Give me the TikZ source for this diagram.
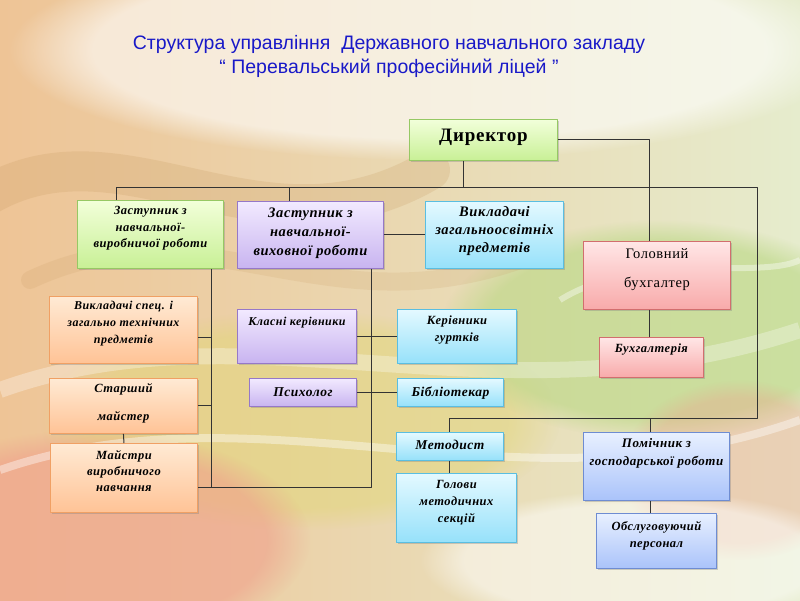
\documentclass[tikz,border=0pt]{standalone}
\usepackage{fontspec}
\setmainfont{Liberation Serif}[LetterSpace=4]
\newfontfamily\titlefont{Liberation Sans}
\usetikzlibrary{shadows,fadings}

\definecolor{titleblue}{RGB}{25,25,200}
\definecolor{bgpeach}{RGB}{238,196,150}
\definecolor{bgmint}{RGB}{230,236,205}
\definecolor{bgbrown}{RGB}{195,150,90}
\definecolor{bgrose}{RGB}{240,160,140}
\definecolor{bggreen}{RGB}{185,215,130}
\definecolor{bgyellow}{RGB}{225,215,120}
\definecolor{greenT}{RGB}{242,255,218}
\definecolor{greenB}{RGB}{200,240,150}
\definecolor{greenD}{RGB}{150,200,100}
\definecolor{purpleT}{RGB}{242,234,255}
\definecolor{purpleB}{RGB}{200,180,240}
\definecolor{purpleD}{RGB}{150,120,200}
\definecolor{cyanT}{RGB}{228,249,255}
\definecolor{cyanB}{RGB}{150,225,250}
\definecolor{cyanD}{RGB}{90,190,225}
\definecolor{orangeT}{RGB}{255,234,212}
\definecolor{orangeB}{RGB}{255,195,150}
\definecolor{orangeD}{RGB}{240,160,100}
\definecolor{pinkT}{RGB}{255,230,230}
\definecolor{pinkB}{RGB}{248,170,170}
\definecolor{pinkD}{RGB}{210,110,110}
\definecolor{blueT}{RGB}{232,240,255}
\definecolor{blueB}{RGB}{170,195,250}
\definecolor{blueD}{RGB}{110,140,210}

% box text: height, width, top pad, text
\newcommand{\boxtxt}[4]{\parbox[c][#1pt][t]{#2pt}{\centering\vspace*{#3pt}#4\par}}

\tikzset{
  orgbox/.style={draw, line width=0.9pt, inner sep=0pt, anchor=north west,
    drop shadow={shadow xshift=1.5pt, shadow yshift=-1.5pt, opacity=0.35},
    font=\bfseries\itshape\fontsize{12.5}{16.5}\selectfont},
  greenbox/.style={orgbox, draw=greenD, top color=greenT, bottom color=greenB},
  purplebox/.style={orgbox, draw=purpleD, top color=purpleT, bottom color=purpleB},
  cyanbox/.style={orgbox, draw=cyanD, top color=cyanT, bottom color=cyanB},
  orangebox/.style={orgbox, draw=orangeD, top color=orangeT, bottom color=orangeB},
  pinkbox/.style={orgbox, draw=pinkD, top color=pinkT, bottom color=pinkB},
  bluebox/.style={orgbox, draw=blueD, top color=blueT, bottom color=blueB},
  link/.style={draw=black!80, line width=1pt},
  glow/.style={path fading=circle with fuzzy edge 20 percent}
}

\begin{document}
\begin{tikzpicture}[x=1pt,y=-1pt,line join=round]
\useasboundingbox (0,0) rectangle (800,600);
% background
\shade[left color=bgpeach, right color=bgmint] (0,0) rectangle (800,600);
\fill[white, opacity=0.6, glow] (430,50) ellipse (420 and 110);
\fill[bgyellow, opacity=0.5, glow] (300,420) ellipse (260 and 110);
\fill[bggreen, opacity=0.6, glow] (660,330) ellipse (220 and 110);
\fill[bgrose, opacity=0.6, glow] (90,540) ellipse (220 and 110);
\fill[bgrose, opacity=0.35, glow] (740,470) ellipse (120 and 90);
\fill[white, opacity=0.5, glow] (640,560) ellipse (220 and 70);
\draw[line width=40pt, bgbrown, opacity=0.2, line cap=round] (-20,200) .. controls (120,110) and (260,270) .. (430,170);
\draw[line width=18pt, bgbrown, opacity=0.15, line cap=round] (30,280) .. controls (200,200) and (320,330) .. (520,260);
\draw[line width=16pt, white, opacity=0.3] (0,390) .. controls (250,300) and (500,430) .. (800,330);
\draw[line width=8pt, white, opacity=0.4] (0,470) .. controls (260,380) and (520,520) .. (800,420);
\draw[line width=6pt, white, opacity=0.4] (560,300) .. controls (640,250) and (760,280) .. (800,260);

% title
\node[font=\titlefont\fontsize{19.5}{24}\selectfont, text=titleblue, align=center] (title) at (389,56)
  {Структура управління \ Державного навчального закладу\\“ Перевальський професійний ліцей ”};

% boxes
\node[greenbox, font=\bfseries\fontsize{19}{22}\selectfont] (dir) at (409,119) {\boxtxt{41}{148}{10}{Директор}};
\node[greenbox] (zast1) at (77,200) {\boxtxt{68}{146}{6}{Заступник з\\навчальної-\\виробничої роботи}};
\node[purplebox, font=\bfseries\itshape\fontsize{14.5}{19}\selectfont] (zast2) at (237,201) {\boxtxt{67}{146}{6}{Заступник з\\навчальної-\\виховної роботи}};
\node[cyanbox, font=\bfseries\itshape\fontsize{14.5}{18}\selectfont] (vykl) at (425,201) {\boxtxt{67}{138}{5}{Викладачі\\загальноосвітніх\\предметів}};
\node[pinkbox, font=\fontsize{14.5}{29}\selectfont] (buh) at (583,241) {\boxtxt{68}{147}{7}{Головний\\бухгалтер}};
\node[orangebox, font=\bfseries\itshape\fontsize{12}{17}\selectfont] (vykspec) at (49,296) {\boxtxt{67}{148}{5}{Викладачі спец. і\\загально технічних\\предметів}};
\node[purplebox, font=\bfseries\itshape\fontsize{12}{17}\selectfont] (klasni) at (237,309) {\boxtxt{54}{119}{8}{Класні керівники}};
\node[cyanbox, font=\bfseries\itshape\fontsize{12.5}{17}\selectfont] (kerivn) at (397,309) {\boxtxt{54}{119}{6}{Керівники\\гуртків}};
\node[purplebox, font=\bfseries\itshape\fontsize{13.5}{17}\selectfont] (psych) at (249,378) {\boxtxt{28}{107}{9}{Психолог}};
\node[cyanbox, font=\bfseries\itshape\fontsize{13.5}{17}\selectfont] (bibl) at (397,378) {\boxtxt{28}{106}{8}{Бібліотекар}};
\node[orangebox, font=\bfseries\itshape\fontsize{12.5}{28}\selectfont] (starsh) at (49,378) {\boxtxt{55}{148}{5}{Старший\\майстер}};
\node[orangebox, font=\bfseries\itshape\fontsize{12.5}{16}\selectfont] (majstry) at (50,443) {\boxtxt{69}{147}{7}{Майстри\\виробничого\\навчання}};
\node[pinkbox] (buhg) at (599,337) {\boxtxt{40}{104}{6}{Бухгалтерія}};
\node[cyanbox, font=\bfseries\itshape\fontsize{13.5}{17}\selectfont] (metod) at (396,432) {\boxtxt{28}{107}{8}{Методист}};
\node[cyanbox, font=\bfseries\itshape\fontsize{12.5}{17}\selectfont] (holovy) at (396,473) {\boxtxt{69}{120}{7}{Голови\\методичних\\секцій}};
\node[bluebox, font=\bfseries\itshape\fontsize{13}{18}\selectfont] (pomich) at (583,432) {\boxtxt{68}{146}{6}{Помічник з\\господарської роботи}};
\node[bluebox, font=\bfseries\itshape\fontsize{12.5}{17}\selectfont] (obsl) at (596,513) {\boxtxt{55}{120}{8}{Обслуговуючий\\персонал}};

% junctions
\coordinate (dirdrop) at (463,187);
\coordinate (busL) at (116,187);
\coordinate (busM) at (289,187);
\coordinate (busR) at (757,187);
\coordinate (xbuh) at (649,143);
\coordinate (v1) at (211,487);
\coordinate (v2) at (371,487);
\coordinate (j1) at (211,337);
\coordinate (lowR) at (757,418);
\coordinate (lowM) at (650,418);

% connectors
\draw[link] (dirdrop |- dir.south) -- (dirdrop);
\draw[link] (busL) -- (busR) -- (lowR) -- (lowR -| metod.north) -- (metod.north);
\draw[link] (busL) -- (busL |- zast1.north);
\draw[link] (busM) -- (busM |- zast2.north);
\draw[link] (dir.east) -- (dir.east -| xbuh) -- (xbuh |- buh.north);
\draw[link] (xbuh |- buh.south) -- (xbuh |- buhg.north);
\draw[link] (zast2.east) -- (vykl.west);
\draw[link] (v1 |- zast1.south) -- (v1) -- (v1 -| majstry.east);
\draw[link] (v2 |- zast2.south) -- (v2) -- (v1);
\draw[link] (j1 -| vykspec.east) -- (j1);
\draw[link] (starsh.east) -- (starsh.east -| v1);
\draw[link] (starsh.south) -- (majstry.north);
\draw[link] (klasni.east) -- (kerivn.west);
\draw[link] (psych.east) -- (bibl.west);
\draw[link] (metod.south) -- (metod.south |- holovy.north);
\draw[link] (lowM) -- (lowM |- pomich.north);
\draw[link] (lowM |- pomich.south) -- (lowM |- obsl.north);
\end{tikzpicture}
\end{document}
